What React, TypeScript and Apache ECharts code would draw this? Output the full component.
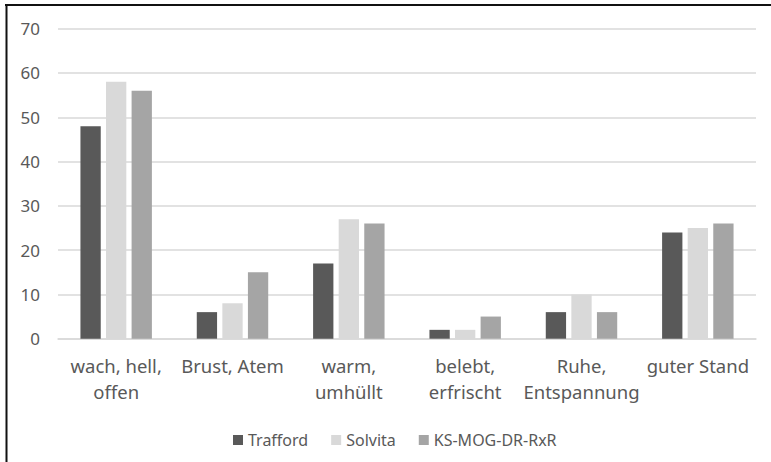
import React, { useEffect, useRef } from "react";
import * as echarts from "echarts";

const categories: string[] = [
  "wach, hell,\noffen",
  "Brust, Atem",
  "warm,\numhüllt",
  "belebt,\nerfrischt",
  "Ruhe,\nEntspannung",
  "guter Stand",
];
const seriesNames: string[] = ["Trafford", "Solvita", "KS-MOG-DR-RxR"];
const trafford: number[] = [48, 6, 17, 2, 6, 24];
const solvita: number[] = [58, 8, 27, 2, 10, 25];
const ksMog: number[] = [56, 15, 26, 5, 6, 26];
const colors: string[] = ["#595959", "#d9d9d9", "#a5a5a5"];
const yMin = 0;
const yMax = 70;
const yInterval = 10;

const FONT = "'Noto Sans', 'DejaVu Sans', sans-serif";

export default function App() {
  const ref = useRef<HTMLDivElement>(null);
  useEffect(() => {
    if (!ref.current) return;
    const chart = echarts.init(ref.current, null, { renderer: "svg" });
    const values = [trafford, solvita, ksMog];
    chart.setOption({
      animation: false,
      backgroundColor: "#ffffff",
      textStyle: { fontFamily: FONT },
      grid: {
        left: 58,
        right: 15,
        top: 28.7,
        bottom: 123.3,
        containLabel: false,
        outerBoundsMode: "none",
      },
      legend: {
        left: 228,
        top: 427,
        icon: "rect",
        itemWidth: 10,
        itemHeight: 10,
        itemGap: 23,
        textStyle: { color: "#595959", fontSize: 16, fontFamily: FONT },
        data: seriesNames,
      },
      graphic: [
        {
          type: "line",
          shape: { x1: 5, y1: 5, x2: 771, y2: 5 },
          style: { stroke: "#111111", lineWidth: 2 },
          silent: true,
        },
        {
          type: "line",
          shape: { x1: 6.5, y1: 4, x2: 6.5, y2: 462 },
          style: { stroke: "#111111", lineWidth: 2 },
          silent: true,
        },
      ],
      xAxis: {
        type: "category",
        data: categories,
        axisLine: { show: true, lineStyle: { color: "#d9d9d9", width: 1.5 } },
        axisTick: { show: false },
        axisLabel: {
          interval: 0,
          color: "#595959",
          fontSize: 18.5,
          lineHeight: 26,
          margin: 14,
          fontFamily: FONT,
        },
      },
      yAxis: {
        type: "value",
        min: yMin,
        max: yMax,
        interval: yInterval,
        axisLine: { show: false },
        axisTick: { show: false },
        splitLine: { lineStyle: { color: "#d9d9d9", width: 1.5 } },
        axisLabel: { color: "#595959", fontSize: 17, margin: 18, fontFamily: FONT },
      },
      series: seriesNames.map((name, i) => ({
        name,
        type: "bar",
        data: values[i],
        barWidth: 20.3,
        barGap: "26%",
        itemStyle: { color: colors[i] },
      })),
    });
    return () => chart.dispose();
  }, []);
  return (
    <div
      ref={ref}
      style={{ position: "fixed", left: 0, top: 0, width: 771, height: 462, background: "#fff" }}
    />
  );
}
